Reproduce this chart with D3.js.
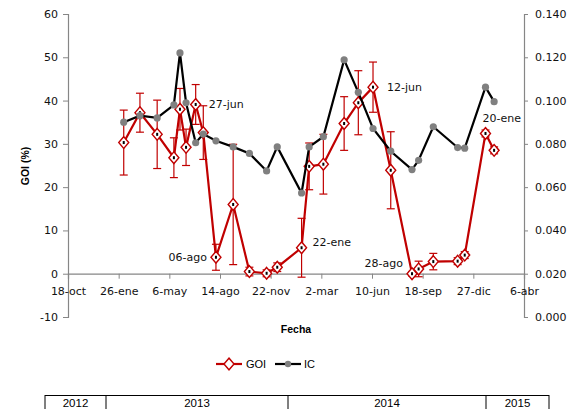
<!DOCTYPE html>
<html>
<head>
<meta charset="utf-8">
<script src="https://cdn.jsdelivr.net/npm/d3@7"></script>
<style>
  body { margin: 0; background: #fff; }
  text { font-family: "DejaVu Sans", sans-serif; }
</style>
</head>
<body>
<svg id="chart" width="569" height="409"></svg>
<script>
// sampling dates
var fechas = ["2013-02-05","2013-03-09","2013-04-12","2013-05-15","2013-05-27","2013-06-08","2013-06-27",
              "2013-07-12","2013-08-06","2013-09-09","2013-10-11","2013-11-14","2013-12-05","2014-01-22",
              "2014-02-06","2014-03-06","2014-04-16","2014-05-14","2014-06-12","2014-07-17","2014-08-28",
              "2014-09-10","2014-10-09","2014-11-26","2014-12-10","2015-01-20","2015-02-06"];
var goi = [30.3,37.2,32.2,26.8,38.0,29.2,39.1,32.6,3.8,16.0,0.5,0.1,1.5,6.0,
           24.8,25.3,34.7,39.5,43.1,23.9,0.0,1.1,2.8,2.9,4.3,32.4,28.5];
var goiErr = [7.5,4.5,7.9,4.6,4.8,4.2,4.6,6.2,3.0,13.9,1.0,0.8,1.0,6.8,
              5.4,6.9,6.2,7.4,5.8,8.9,0.5,1.8,1.9,0.8,0.8,0.8,0.8];
var ic = [0.090,0.093,0.092,0.098,0.122,0.099,0.0805,0.0845,0.0814,0.0786,0.0756,0.0675,0.0786,0.0573,
          0.0786,0.0833,0.1188,0.1038,0.0871,0.0766,0.0681,0.0724,0.0879,0.0783,0.078,0.1062,0.0995];

var xTickDates = ["2012-10-18","2013-01-26","2013-05-06","2013-08-14","2013-11-22","2014-03-02",
                  "2014-06-10","2014-09-18","2014-12-27","2015-04-06"];
var xTickLabels = ["18-oct","26-ene","6-may","14-ago","22-nov","2-mar","10-jun","18-sep","27-dic","6-abr"];
var leftTicks = [-10,0,10,20,30,40,50,60];
var rightTicks = [0,0.02,0.04,0.06,0.08,0.10,0.12,0.14];

// annotated points (index into fechas)
var notePoints = [6, 8, 13, 18, 20, 25];
var noteLabels = ["27-jun","06-ago","22-ene","12-jun","28-ago","20-ene"];

var years = ["2012","2013","2014","2015"];
var yearEdges = [45, 106, 288, 486, 549];

var parse = d3.timeParse("%Y-%m-%d");
var red = "#c00000", grey = "#868686";

var svg = d3.select("#chart");
var x = d3.scaleTime().domain([parse("2012-10-18"), parse("2015-04-06")]).range([68, 524]);
var yL = d3.scaleLinear().domain([-10, 60]).range([317, 14]);
var yR = d3.scaleLinear().domain([0, 0.14]).range([317, 14]);

var rows = fechas.map(function(f, i) {
    return { date: parse(f), goi: goi[i], err: goiErr[i], ic: ic[i] };
});

// axes
var gL = svg.append("g").attr("transform", "translate(68,0)")
    .call(d3.axisLeft(yL).tickValues(leftTicks).tickSize(5).tickPadding(5)
        .tickFormat(function(d) { return String(d); }));
var gR = svg.append("g").attr("transform", "translate(524,0)")
    .call(d3.axisRight(yR).tickValues(rightTicks).tickSize(4).tickFormat(d3.format(".3f")).tickPadding(7));
var gX = svg.append("g").attr("transform", "translate(0," + yL(0) + ")")
    .call(d3.axisBottom(x).tickValues(xTickDates.map(parse)).tickSize(5).tickPadding(8)
        .tickFormat(function(d, i) { return xTickLabels[i]; }));

[gL, gR, gX].forEach(function(g) {
    g.select(".domain").attr("stroke", grey).attr("stroke-width", 1.2);
    g.selectAll(".tick line").attr("stroke", grey);
    g.selectAll(".tick text").attr("fill", "#111").style("font-size", "11px")
        .style("font-family", "'DejaVu Sans', sans-serif");
});

svg.append("text").attr("transform", "translate(29,166) rotate(-90)")
    .attr("text-anchor", "middle").style("font-family", "'Liberation Sans', Arial, sans-serif")
    .style("font-size", "10.5px").style("font-weight", "bold").text("GOI (%)");
svg.append("text").attr("x", 296).attr("y", 333).attr("text-anchor", "middle")
    .style("font-family", "'Liberation Sans', Arial, sans-serif")
    .style("font-size", "10.5px").style("font-weight", "bold").text("Fecha");

// error bars
var eb = svg.append("g").attr("stroke", red).attr("stroke-width", 1.2);
rows.forEach(function(d) {
    var cx = x(d.date), t = yL(d.goi + d.err), b = yL(d.goi - d.err);
    eb.append("line").attr("x1", cx).attr("x2", cx).attr("y1", t).attr("y2", b);
    eb.append("line").attr("x1", cx - 4).attr("x2", cx + 4).attr("y1", t).attr("y2", t);
    eb.append("line").attr("x1", cx - 4).attr("x2", cx + 4).attr("y1", b).attr("y2", b);
});

// GOI series
svg.append("path").datum(rows)
    .attr("fill", "none").attr("stroke", red).attr("stroke-width", 2.2)
    .attr("d", d3.line().x(function(d) { return x(d.date); }).y(function(d) { return yL(d.goi); }));

var diamond = d3.symbol().type(d3.symbolDiamond).size(55);
svg.append("g").selectAll("path").data(rows).enter().append("path")
    .attr("transform", function(d) { return "translate(" + x(d.date) + "," + yL(d.goi) + ") scale(1.25,0.85)"; })
    .attr("d", diamond).attr("fill", "#fff").attr("stroke", red).attr("stroke-width", 1.3);
svg.append("g").selectAll("rect").data(rows).enter().append("rect")
    .attr("x", function(d) { return x(d.date) - 1; }).attr("y", function(d) { return yL(d.goi) - 1.5; })
    .attr("width", 2).attr("height", 3).attr("fill", "#000");

// IC series
svg.append("path").datum(rows)
    .attr("fill", "none").attr("stroke", "#000").attr("stroke-width", 2.2)
    .attr("d", d3.line().x(function(d) { return x(d.date); }).y(function(d) { return yR(d.ic); }));
svg.append("g").selectAll("circle").data(rows).enter().append("circle")
    .attr("cx", function(d) { return x(d.date); }).attr("cy", function(d) { return yR(d.ic); })
    .attr("r", 3.6).attr("fill", "#808080");

// point labels
var noteOffsets = [[13, 4, "start"], [-9, 4, "end"], [11, -2, "start"], [14, 4, "start"], [-9, -7, "end"], [-3, -11, "start"]];
notePoints.forEach(function(p, i) {
    var d = rows[p], o = noteOffsets[i];
    svg.append("text").attr("x", x(d.date) + o[0]).attr("y", yL(d.goi) + o[1])
        .attr("text-anchor", o[2]).style("font-size", "11px").attr("fill", "#111").text(noteLabels[i]);
});

// legend
var lg = svg.append("g").attr("transform", "translate(0,364)");
lg.append("line").attr("x1", 216).attr("x2", 242).attr("stroke", red).attr("stroke-width", 2.2);
lg.append("path").attr("transform", "translate(229,0) scale(1.25,0.85)").attr("d", diamond)
    .attr("fill", "#fff").attr("stroke", red).attr("stroke-width", 1.3);
lg.append("text").attr("x", 246).attr("y", 4).style("font-family", "'Liberation Sans', Arial, sans-serif")
    .style("font-size", "11px").text("GOI");
lg.append("line").attr("x1", 275).attr("x2", 301).attr("stroke", "#000").attr("stroke-width", 2.2);
lg.append("circle").attr("cx", 288).attr("r", 3.2).attr("fill", "#808080");
lg.append("text").attr("x", 304).attr("y", 4).style("font-family", "'Liberation Sans', Arial, sans-serif")
    .style("font-size", "11px").text("IC");

// year strip
var ys = svg.append("g");
ys.append("line").attr("x1", yearEdges[0]).attr("x2", yearEdges[4]).attr("y1", 395.5).attr("y2", 395.5)
    .attr("stroke", "#000");
yearEdges.forEach(function(e) {
    ys.append("line").attr("x1", e).attr("x2", e).attr("y1", 395).attr("y2", 409).attr("stroke", "#000");
});
years.forEach(function(yr, i) {
    ys.append("text").attr("x", (yearEdges[i] + yearEdges[i + 1]) / 2).attr("y", 406.5)
        .attr("text-anchor", "middle").style("font-family", "'Liberation Sans', Arial, sans-serif")
        .style("font-size", "11.5px").text(yr);
});
</script>
</body>
</html>
